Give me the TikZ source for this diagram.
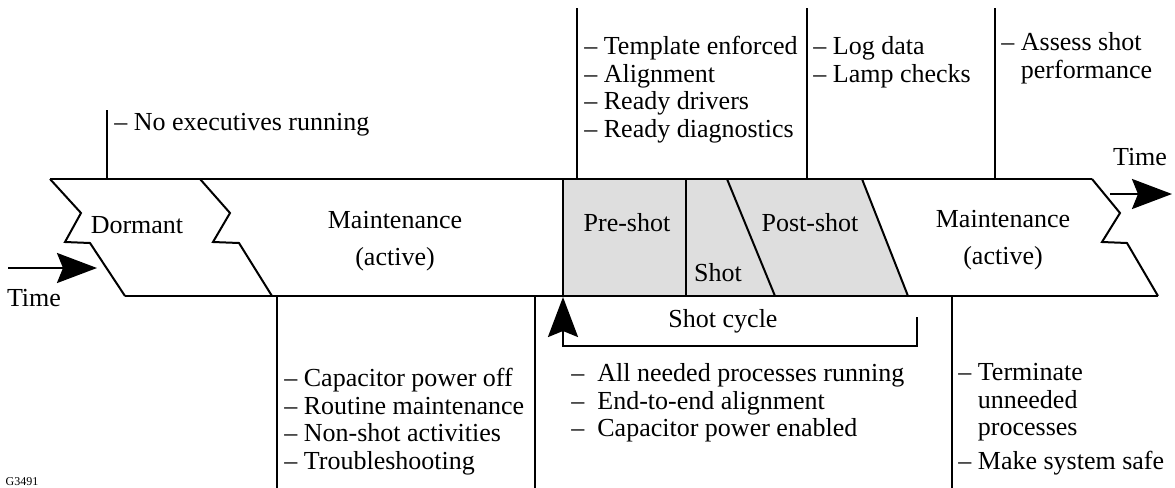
\documentclass[tikz,border=0pt]{standalone}
\usepackage{fontspec}
\setmainfont{Liberation Serif}
\usetikzlibrary{arrows.meta, positioning}

\tikzset{
	band/.style={line width=1pt, line join=miter},
	tick/.style={line width=1pt},
	phase/.style={inner sep=0pt, align=center},
	notes/.style={inner sep=0pt, align=left, anchor=north west},
	timearrow/.style={line width=1.2pt, -{Stealth[length=20pt, width=15pt, inset=3pt]}},
}

\begin{document}
\begin{tikzpicture}[x=0.5pt, y=-0.5pt]
	\fontsize{13}{13.8}\selectfont
	\useasboundingbox (0,0) rectangle (1175,488);

	% shaded part of the cycle
	\fill[black!13] (563,179) -- (862,179) -- (908,296) -- (563,296) -- cycle;

	% the band: top and bottom edges, zigzag cuts and phase borders
	\draw[band] (50,179) -- (1092,179);
	\draw[band] (125,296) -- (1158,296);
	\draw[band] (50,179) -- (81,213) -- (65,242) -- (90,243) -- (125,296);
	\draw[band] (200,179) -- (230,213) -- (213,242) -- (239,243) -- (272,296);
	\draw[band] (1092,179) -- (1120,213) -- (1102,242) -- (1127,243) -- (1158,296);
	\draw[band] (563,179) -- (563,296);
	\draw[band] (686,179) -- (686,296);
	\draw[band] (727,179) -- (775,296);
	\draw[band] (862,179) -- (908,296);

	% phase names
	\node[phase] (dormant) at (137,225) {Dormant};
	\node[phase] (maintL) at (395,241) {Maintenance\\[4.5pt](active)};
	\node[phase] (preshot) at (627,223) {Pre-shot};
	\node[phase] (shot) at (718,273) {Shot};
	\node[phase] (postshot) at (810,223) {Post-shot};
	\node[phase] (maintR) at (1003,240) {Maintenance\\[4.5pt](active)};

	% time arrows
	\coordinate (tinL) at (8,268);
	\coordinate (tinR) at (97,268);
	\draw[timearrow] (tinL) -- (tinR);
	\node[phase] (timeL) at (34,298) {Time};
	\coordinate (toutL) at (1110,194);
	\coordinate (toutR) at (1172,194);
	\draw[timearrow] (toutL) -- (toutR);
	\node[phase] (timeR) at (1140,157) {Time};

	% notes above the band
	\coordinate (upA) at (107,110);
	\coordinate (upB) at (577,8);
	\coordinate (upC) at (807,8);
	\coordinate (upD) at (995,8);
	\draw[tick] (upA) -- (upA |- 0,179);
	\draw[tick] (upB) -- (upB |- 0,179);
	\draw[tick] (upC) -- (upC |- 0,179);
	\draw[tick] (upD) -- (upD |- 0,179);
	\node[notes, anchor=west] (noexec) at (114,125) {-- No executives running};
	\node[notes] (prenotes) at (584,36) {-- Template enforced\\-- Alignment\\-- Ready drivers\\-- Ready diagnostics};
	\node[notes] (postnotes) at (813,36) {-- Log data\\-- Lamp checks};
	\node[notes] (assess) at (1001,32) {-- Assess shot\\\phantom{-- }performance};

	% notes below the band
	\coordinate (dnA) at (277,488);
	\coordinate (dnB) at (535,488);
	\coordinate (dnC) at (952,488);
	\draw[tick] (dnA |- 0,296) -- (dnA);
	\draw[tick] (dnB |- 0,296) -- (dnB);
	\draw[tick] (dnC |- 0,296) -- (dnC);
	\node[notes] (offnotes) at (284,368) {-- Capacitor power off\\-- Routine maintenance\\-- Non-shot activities\\-- Troubleshooting};
	\node[notes] (onnotes) at (571,363) {--\enspace All needed processes running\\--\enspace End-to-end alignment\\--\enspace Capacitor power enabled};
	\node[notes] (safenotes) at (958,363) {-- Terminate\\\phantom{-- }unneeded\\\phantom{-- }processes\\[3pt]-- Make system safe};

	% shot cycle bracket
	\coordinate (cycA) at (563,297);
	\coordinate (cycB) at (563,346);
	\coordinate (cycC) at (917,346);
	\coordinate (cycD) at (917,317);
	\draw[timearrow] (cycD) -- (cycC) -- (cycB) -- (cycA);
	\node[phase] (cycle) at (723,321) {Shot cycle};

	\node[phase, font=\fontsize{6}{6}\selectfont] (figno) at (22,482) {G3491};
\end{tikzpicture}
\end{document}
